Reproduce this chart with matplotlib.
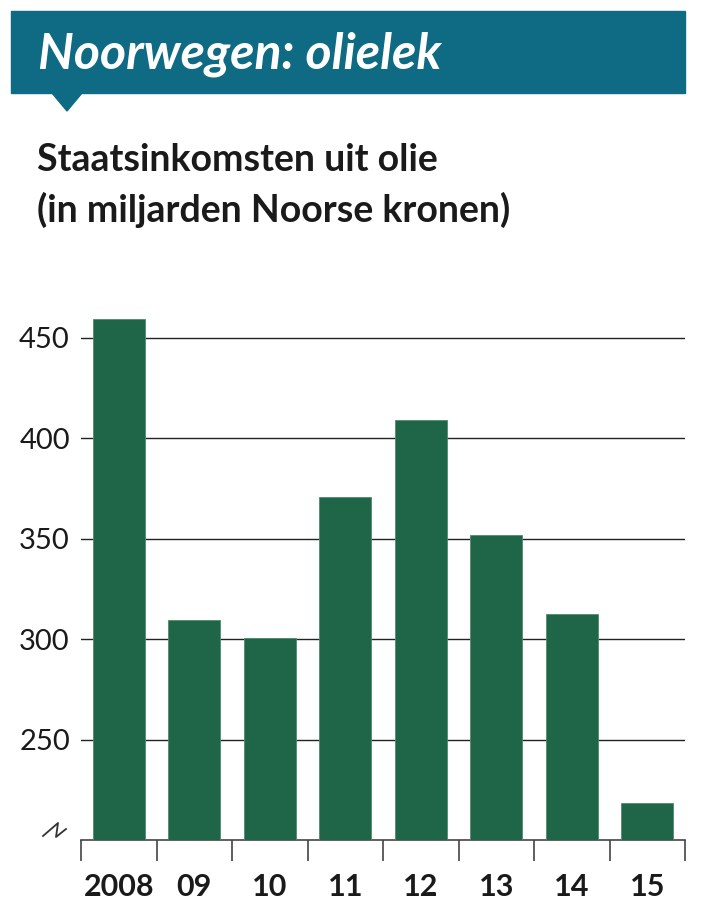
import matplotlib.pyplot as plt
from matplotlib.patches import Rectangle, Polygon
from matplotlib.lines import Line2D

years = ['2008', '09', '10', '11', '12', '13', '14', '15']
values = [459, 309.5, 300.5, 370.5, 409, 351.5, 312.5, 218.5]
yticks = [250, 300, 350, 400, 450]

BAR = '#1e6647'
HEAD = '#0e6b83'
W, H = 701, 901

fig = plt.figure(figsize=(W / 100, H / 100), dpi=100)
fig.patch.set_facecolor('white')

# header band with pointer
fig.patches.append(Rectangle((11 / W, 1 - 93 / H), 674 / W, 82 / H,
                             transform=fig.transFigure, color=HEAD, zorder=0))
fig.patches.append(Polygon([(52 / W, 1 - 93 / H), (82 / W, 1 - 93 / H), (67 / W, 1 - 111 / H)],
                           closed=True, transform=fig.transFigure, color=HEAD, zorder=0))
fig.text(38 / W, 1 - 54 / H, 'Noorwegen: olielek', color='white', fontsize=36,
         fontweight='bold', fontstyle='italic', family='Lato', va='center', ha='left')

fig.text(37 / W, 1 - 160 / H, 'Staatsinkomsten uit olie', fontsize=27,
         fontweight='bold', family='Lato', color='#1a1a1a', va='center')
fig.text(37 / W, 1 - 210 / H, '(in miljarden Noorse kronen)', fontsize=27,
         fontweight='bold', family='Lato', color='#1a1a1a', va='center')

ymin, ymax = 200, 462
ax = fig.add_axes([81 / W, 1 - 840 / H, 604 / W, (ymax - ymin) * 2.01 / H])
x = range(len(years))
ax.bar(x, values, width=0.69, color=BAR, edgecolor='#4f8a70', linewidth=0.6, zorder=3)
ax.set_xlim(-0.5, len(years) - 0.5)
ax.set_ylim(ymin, ymax)

ax.set_yticks(yticks)
ax.set_yticklabels([str(t) for t in yticks], family='Lato', fontsize=21, color='#1a1a1a')
ax.tick_params(axis='y', length=0, pad=8)
ax.yaxis.grid(True, color='#222222', linewidth=1)
ax.set_axisbelow(True)

ax.set_xticks(list(x))
ax.set_xticklabels(years, family='Lato', fontsize=22, fontweight='bold', color='#1a1a1a')
ax.set_xticks([i - 0.5 for i in range(len(years) + 1)], minor=True)
ax.tick_params(axis='x', which='major', length=0, pad=24)
ax.tick_params(axis='x', which='minor', length=15, width=1.2, color='#444444')

for s in ['left', 'right', 'top']:
    ax.spines[s].set_visible(False)
ax.spines['bottom'].set_color('#444444')
ax.spines['bottom'].set_linewidth(1.2)

# axis break mark
fig.lines.append(Line2D([43 / W, 58 / W, 56 / W, 66 / W],
                        [1 - 836 / H, 1 - 823 / H, 1 - 837 / H, 1 - 829 / H],
                        transform=fig.transFigure, color='#333333', linewidth=1.3))

fig.savefig('out.png', dpi=100)
